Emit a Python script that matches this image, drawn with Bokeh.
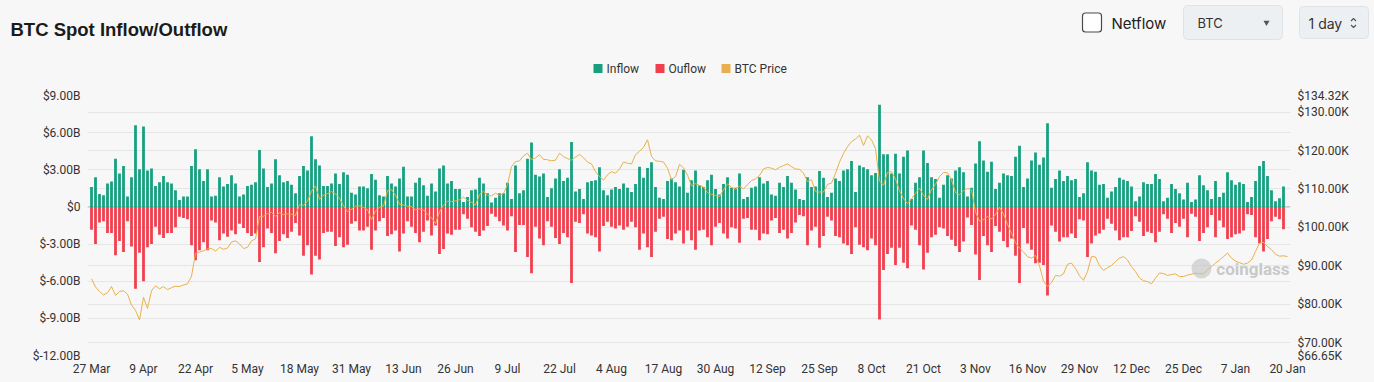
from bokeh.plotting import figure
from bokeh.models import (Range1d, LinearAxis, FixedTicker, CustomJSTickFormatter,
                          Grid, Span, ColumnDataSource, Label)
from bokeh.embed import file_html
from bokeh.resources import INLINE
from bokeh.core.properties import value

# ---------------- data ----------------
# daily index 0 = 27 Mar, 299 = 20 Jan
x_tick_labels = ["27 Mar", "9 Apr", "22 Apr", "5 May", "18 May", "31 May", "13 Jun", "26 Jun",
                 "9 Jul", "22 Jul", "4 Aug", "17 Aug", "30 Aug", "12 Sep", "25 Sep", "8 Oct",
                 "21 Oct", "3 Nov", "16 Nov", "29 Nov", "12 Dec", "25 Dec", "7 Jan", "20 Jan"]
x_tick_days = [0, 13, 26, 39, 52, 65, 78, 91, 104, 117, 130, 143, 156, 169, 182, 195,
               208, 221, 234, 247, 260, 273, 286, 299]

# inflow in $B
inflow = [
    1.6, 2.4, 1.05, 0.95, 1.9, 2.05, 3.9, 2.7, 3.3, 0.85, 2.4, 6.6, 3.05, 6.5, 2.95, 3.1, 1.7, 2.0, 2.5, 2.0,
    1.9, 1.35, 0.55, 0.85, 0.85, 3.3, 4.65, 3.05, 2.1, 3.05, 0.85, 0.9, 2.4, 1.65, 1.85, 2.55, 1.9, 0.85, 1.0, 1.7,
    1.8, 2.0, 4.6,
    3.1, 1.6, 1.9, 3.85, 2.55, 2.0, 2.1, 1.8, 1.1, 2.5, 3.3, 2.95, 5.7, 3.85, 3.35, 1.7, 1.7, 1.9, 2.7, 1.85,
    2.8, 2.6, 1.15, 1.0, 1.65, 1.65, 1.5, 2.65, 2.2, 0.95, 0.85, 2.5, 1.9, 1.65, 2.3, 3.25, 0.85, 0.85, 1.95, 2.35,
    1.75, 0.9,
    1.9, 1.25, 3.1, 3.35, 1.9, 2.1, 1.45, 1.45, 0.4, 0.8, 1.35, 1.4, 2.35, 1.9, 1.1, 0.35, 0.75, 1.1, 1.1, 1.95,
    0.65, 3.35, 1.1, 1.35, 3.9, 5.2, 2.6, 2.45, 2.7, 0.8, 1.5, 2.3, 3.05, 2.1, 2.35, 5.25, 1.25, 1.45, 0.65, 2.0,
    2.1, 2.15, 3.2,
    1.35, 0.95, 1.4, 1.6, 1.45, 1.9, 1.55, 1.2, 1.85, 3.25, 2.35, 3.15, 3.6, 1.6, 0.75, 0.65, 2.1, 2.3, 2.0, 1.65,
    3.0, 1.15, 2.15, 2.95, 1.75, 1.6, 2.15, 2.6, 1.45, 1.0, 1.85, 2.4, 1.55, 1.55, 2.7, 0.65, 0.8, 1.55, 1.65, 2.4,
    1.9, 2.1, 1.0,
    0.9, 1.95, 1.6, 2.5, 1.95, 1.4, 0.65, 0.55, 2.4, 1.6, 1.65, 2.9, 2.35, 0.8, 1.15, 2.3, 2.1, 2.95, 3.05, 3.7,
    1.2, 3.35, 3.2, 3.05, 2.55, 2.75, 8.25, 4.25, 4.25, 2.7, 4.3, 2.7, 4.05, 4.55, 0.65, 1.95, 2.4, 4.55, 3.55, 2.4,
    2.25, 0.75,
    1.8, 2.55, 2.3, 2.95, 3.2, 2.8, 0.85, 1.55, 3.5, 5.3, 3.75, 2.85, 3.65, 1.45, 1.95, 2.7, 2.55, 2.5, 4.05, 4.95,
    1.6, 2.3, 3.75, 4.4, 3.4, 4.0, 6.75, 1.55, 2.25, 2.95, 2.1, 2.5, 2.15, 2.25, 0.8, 1.1, 3.6, 2.95, 2.85, 1.8,
    1.85, 0.75, 1.25,
    1.6, 2.35, 2.2, 2.1, 1.65, 0.45, 0.85, 2.0, 1.85, 1.85, 2.65, 2.25, 0.45, 0.75, 1.85, 1.45, 1.1, 0.6, 1.95, 0.4,
    0.6, 2.55, 1.75, 1.35, 0.65, 2.1, 0.8, 1.15, 2.8, 2.15, 1.8, 2.0, 1.85, 0.4, 0.8, 2.1, 3.3, 3.7, 2.5, 1.35,
    0.45, 0.7, 1.65,
    0.0,
]

# outflow in $B (negative)
outflow = [-v for v in [
    1.85, 3.0, 1.25, 1.15, 2.1, 2.1, 3.9, 2.75, 3.65, 1.15, 3.2, 6.6, 3.7, 6.0, 3.25, 3.0, 1.6, 2.25, 2.5, 2.1,
    2.1, 1.65, 0.8, 0.9, 1.0, 3.1, 4.3, 3.5, 2.85, 3.5, 1.1, 1.25, 2.7, 2.15, 2.4, 1.9, 2.2, 1.35, 1.7, 2.1,
    2.35, 2.15, 4.45,
    3.25, 1.75, 2.1, 3.75, 2.75, 2.2, 2.5, 2.0, 1.3, 2.3, 3.95, 3.1, 5.45, 3.95, 4.25, 2.1, 2.0, 2.0, 3.15, 2.45,
    3.25, 3.05, 1.35, 1.15, 1.9, 1.9, 1.6, 3.45, 1.9, 1.15, 0.9, 2.35, 2.2, 1.9, 3.6, 2.15, 1.15, 1.6, 2.1, 2.85,
    2.0, 1.1,
    2.3, 1.5, 3.8, 3.4, 2.15, 2.25, 1.85, 1.85, 0.6, 0.95, 1.65, 2.0, 2.35, 1.9, 1.55, 0.55, 0.8, 1.15, 1.5, 1.9,
    0.75, 3.65, 1.45, 1.45, 4.05, 5.35, 1.6, 2.55, 3.1, 1.15, 1.6, 2.5, 3.0, 2.1, 2.45, 6.15, 1.2, 1.3, 0.6, 2.15,
    2.3, 2.45, 3.6,
    1.55, 1.2, 1.6, 1.75, 1.5, 1.85, 1.6, 1.2, 1.65, 3.45, 2.15, 3.25, 4.05, 2.0, 0.95, 0.8, 2.6, 2.7, 2.15, 1.9,
    2.95, 1.9, 2.7, 3.45, 1.9, 1.85, 2.45, 3.1, 1.6, 1.3, 2.15, 2.55, 1.65, 1.75, 2.9, 0.95, 0.9, 1.85, 1.85, 2.7,
    2.15, 2.2, 1.1,
    0.9, 2.1, 1.85, 2.55, 2.1, 1.25, 0.65, 0.75, 3.1, 1.9, 1.6, 3.3, 2.35, 0.8, 1.1, 2.35, 2.45, 2.95, 3.1, 3.8,
    1.65, 3.05, 3.25, 3.5, 2.55, 3.1, 9.1, 5.1, 3.8, 3.3, 4.7, 3.3, 4.5, 4.95, 1.5, 1.85, 3.1, 5.05, 3.7, 2.45,
    2.25, 1.65,
    1.75, 2.35, 2.65, 3.15, 3.65, 2.8, 0.85, 1.45, 3.85, 5.9, 2.35, 3.1, 3.65, 1.55, 2.0, 2.75, 3.25, 2.55, 3.95, 6.15,
    1.7, 2.95, 3.45, 4.55, 4.5, 4.7, 7.15, 1.5, 2.0, 2.8, 2.45, 2.45, 2.15, 2.5, 1.0, 1.1, 4.05, 2.95, 2.3, 2.15,
    1.85, 0.95, 1.35,
    1.9, 2.7, 2.45, 2.45, 1.95, 0.75, 1.2, 2.35, 2.0, 2.1, 2.85, 2.0, 0.6, 0.95, 2.1, 1.3, 1.6, 0.95, 2.45, 0.55,
    0.8, 2.75, 2.1, 1.65, 0.65, 2.45, 1.1, 1.65, 2.6, 2.45, 2.2, 2.15, 1.9, 0.6, 0.65, 2.45, 2.95, 3.6, 2.6, 1.15,
    0.8, 1.0, 1.8,
    0.0,
]]

# BTC price in $K
btc_price = [
    86.6, 84.5, 83.3, 82.4, 83.0, 84.6, 82.3, 83.3, 83.5, 82.6, 79.8, 78.4, 75.9, 81.8, 78.9, 83.5, 84.8, 84.0, 84.6, 83.8,
    84.3, 84.7, 84.6, 85.0, 85.3, 87.3, 93.2, 93.6, 93.9, 94.4, 94.5, 93.8, 94.8, 94.3, 94.6, 96.2, 96.5, 95.7, 94.5, 94.8,
    96.5, 97.0, 102.8,
    102.9, 103.6, 103.9, 102.9, 103.8, 103.3, 103.5, 103.4, 103.1, 105.9, 105.7, 106.8, 109.4, 110.8, 107.3, 108.4, 108.8,
    109.3, 108.7, 107.6, 105.6, 104.1, 104.7, 105.5, 105.6, 105.2, 104.6, 102.0, 104.2, 105.3, 105.5, 109.6, 109.8, 108.4,
    106.0, 105.8, 105.5, 105.4, 104.6, 104.8, 104.5, 103.4,
    102.5, 101.0, 104.0, 105.8, 106.8, 106.7, 106.9, 107.2, 107.9, 107.0, 106.5, 105.8, 108.5, 109.4, 108.3, 108.2, 108.9,
    108.3, 108.8, 111.1, 115.8, 117.1, 117.3, 118.6, 119.3, 117.6, 118.1, 118.9, 117.7, 117.6, 117.3, 117.5, 119.3, 118.4,
    117.9, 117.5, 118.3, 119.0, 118.1, 117.0, 116.5, 114.5, 113.2,
    112.3, 113.7, 114.5, 114.1, 115.2, 117.0, 116.7, 116.5, 118.9, 119.8, 120.8, 122.8, 118.5, 117.3, 117.2, 117.0, 115.4,
    112.4, 113.2, 116.4, 115.5, 113.6, 110.8, 111.4, 110.9, 110.5, 109.0, 108.6, 108.3, 108.0, 109.8, 111.3, 110.4, 110.0,
    110.7, 110.0, 111.1, 112.2, 112.6, 113.5, 115.2, 115.6, 115.4,
    115.0, 115.6, 116.1, 116.5, 115.8, 115.2, 115.1, 114.1, 111.9, 112.4, 109.3, 109.2, 109.2, 111.2, 111.5, 114.1, 117.0,
    119.2, 121.0, 122.3, 123.0, 124.0, 121.3, 123.8, 122.8, 120.5, 112.0, 111.0, 114.3, 114.5, 112.6, 109.5, 107.5, 106.2,
    107.4, 108.9, 110.2, 108.3, 107.3, 109.8, 111.2, 113.2,
    114.3, 114.2, 112.4, 109.0, 108.5, 109.5, 110.1, 109.8, 104.0, 101.6, 102.0, 102.8, 102.2, 103.3, 105.2, 103.5, 100.8,
    98.5, 96.0, 94.6, 93.6, 92.4, 92.0, 92.7, 90.0, 86.0, 84.6, 85.6, 87.5, 87.3, 87.9, 90.4, 90.7, 89.3, 87.4, 86.2,
    88.5, 92.4, 92.3, 90.0, 88.8, 89.5, 90.1,
    91.1, 92.0, 92.4, 91.5, 89.8, 88.5, 86.8, 86.1, 85.9, 85.3, 86.8, 88.1, 88.0, 87.5, 87.7, 87.9, 87.2, 87.2, 87.6, 87.8,
    88.1, 87.9, 87.9, 89.0, 89.8, 90.7, 91.5, 92.4, 93.3, 92.0, 91.2, 90.8, 90.4, 90.7, 91.5, 93.7, 95.9, 96.1, 95.0, 94.2,
    93.0, 92.5, 92.6, 92.4,
]

flow_ticks = [-12, -9, -6, -3, 0, 3, 6, 9]
price_ticks = [66.65, 70, 80, 90, 100, 110, 120, 130, 134.32]
legend_labels = ["Inflow", "Ouflow", "BTC Price"]

days = list(range(len(btc_price)))

# ---------------- style / layout ----------------
BG = "#f7f7f7"
GREEN = "#17a07f"
RED = "#f0404e"
GOLD = "#e7b04c"
GRID = "#e6e6e6"
TXT = "#333333"
W = 1374
HEAD_H = 88
CH_H = 382 - HEAD_H
FL, FR = 87, 1290        # frame left/right (page px)
FT, FB = 95, 355         # frame top/bottom (page px)

# ---------------- header figure (title, controls, legend) ----------------
head = figure(width=W, height=HEAD_H, x_range=Range1d(0, W), y_range=Range1d(HEAD_H, 0),
              output_backend="svg", toolbar_location=None, x_axis_type=None, y_axis_type=None,
              min_border=0, background_fill_color=BG, border_fill_color=BG, outline_line_color=None)

head.text(x=[10], y=[28.5], text=["BTC Spot Inflow/Outflow"], text_font=value("Liberation Sans"),
          text_font_style="bold", text_font_size="18.5px", text_color="#1b1b1b", text_baseline="alphabetic")

# Netflow checkbox
head.rect(x=[1091.5], y=[22], width=19, height=19, fill_color="#ffffff", line_color="#4a4a4a",
          line_width=1.2, border_radius=3)
head.text(x=[1111], y=[22.5], text=["Netflow"], text_font=value("Inter"), text_font_size="15px",
          text_color="#222222", text_baseline="middle")
# BTC select
head.rect(x=[1232.5], y=[22], width=99, height=34, fill_color="#edf0f3", line_color="#dfe3e8",
          line_width=1, border_radius=4)
head.text(x=[1197], y=[22.5], text=["BTC"], text_font=value("Inter"), text_font_size="13px",
          text_color="#333333", text_baseline="middle")
head.scatter(x=[1266], y=[22], marker="inverted_triangle", size=6, fill_color="#555555", line_color=None)
# 1 day spinner
head.rect(x=[1333.5], y=[22], width=69, height=32, fill_color="#edf0f3", line_color="#dfe3e8",
          line_width=1, border_radius=4)
head.text(x=[1308], y=[22.5], text=["1 day"], text_font=value("Inter"), text_font_size="14px",
          text_color="#333333", text_baseline="middle")
head.multi_line(xs=[[1350.5, 1353, 1355.5], [1350.5, 1353, 1355.5]], ys=[[20.5, 18, 20.5], [24.5, 27, 24.5]],
                line_color="#555555", line_width=1.2)

# legend
leg_colors = [GREEN, RED, GOLD]
leg_sq_x = [597.5, 659.5, 725.5]
head.rect(x=leg_sq_x, y=[68, 68, 68], width=9, height=9, fill_color=leg_colors, line_color=None)
head.text(x=[sx + 8.5 for sx in leg_sq_x], y=[68.5, 68.5, 68.5], text=legend_labels,
          text_font=value("Roboto"), text_font_size="12px", text_color=TXT, text_baseline="middle")

# ---------------- chart figure ----------------
p = figure(width=W, height=CH_H, x_range=Range1d(-1, 299.75), y_range=Range1d(-12, 9),
           output_backend="svg", toolbar_location=None,
           min_border_left=FL, min_border_right=W - FR, min_border_top=FT - HEAD_H,
           min_border_bottom=382 - FB,
           background_fill_color=BG, border_fill_color=BG, outline_line_color=None)

p.extra_y_ranges = {"price": Range1d(66.65, 134.32)}

left_ticker = FixedTicker(ticks=flow_ticks)
right_ticker = FixedTicker(ticks=price_ticks)

p.yaxis.ticker = left_ticker
p.yaxis.formatter = CustomJSTickFormatter(code="return tick == 0 ? '$0' : '$' + tick.toFixed(2) + 'B';")
ax_r = LinearAxis(y_range_name="price", ticker=right_ticker,
                  formatter=CustomJSTickFormatter(code="return '$' + tick.toFixed(2) + 'K';"))
p.add_layout(ax_r, "right")

p.xaxis.ticker = FixedTicker(ticks=x_tick_days)
p.xaxis.major_label_overrides = {d: lab for d, lab in zip(x_tick_days, x_tick_labels)}

for ax in [p.xaxis[0], p.yaxis[0], ax_r]:
    ax.axis_line_color = None
    ax.major_tick_line_color = None
    ax.minor_tick_line_color = None
    ax.major_tick_out = 0
    ax.major_tick_in = 0
    ax.minor_tick_out = 0
    ax.minor_tick_in = 0
    ax.major_label_text_font = "Roboto"
    ax.major_label_text_font_size = "12px"
    ax.major_label_text_color = TXT
    ax.major_label_standoff = 7
p.xaxis.major_label_standoff = 6

p.xgrid.visible = False
p.ygrid.ticker = left_ticker
p.ygrid.grid_line_color = GRID
p.add_layout(Grid(dimension=1, ticker=right_ticker, y_range_name="price", grid_line_color=GRID))

p.add_layout(Span(location=0, dimension="width", line_color="#b5b5b5", line_width=1, level="underlay"))

src = ColumnDataSource(dict(x=days, inflow=inflow, outflow=outflow, price=btc_price))
p.vbar(x="x", top="inflow", bottom=0, width=0.7, fill_color=GREEN, line_color=None, source=src)
p.vbar(x="x", top=0, bottom="outflow", width=0.7, fill_color=RED, line_color=None, source=src)
p.line(x="x", y="price", y_range_name="price", line_color=GOLD, line_width=1, source=src)

# watermark (coinglass)
wm_x = -1 + (1201 - FL) / 4.0
wm_y = 9 - (268 - FT) * 21 / 260
p.scatter(x=[wm_x], y=[wm_y], marker="circle", size=20, fill_color="#c2c2c2", fill_alpha=0.6, line_color=None)
p.add_layout(Label(x=wm_x + 3.7, y=wm_y, text="coinglass", text_font="Roboto", text_font_style="bold",
                   text_font_size="17px", text_color="#c0c0c0", text_alpha=0.85, text_baseline="middle"))

html = file_html([head, p], INLINE, "BTC Spot Inflow/Outflow")
html = html.replace("<body>", '<body style="background:#f7f7f7;">')
open("out.html", "w").write(html)
